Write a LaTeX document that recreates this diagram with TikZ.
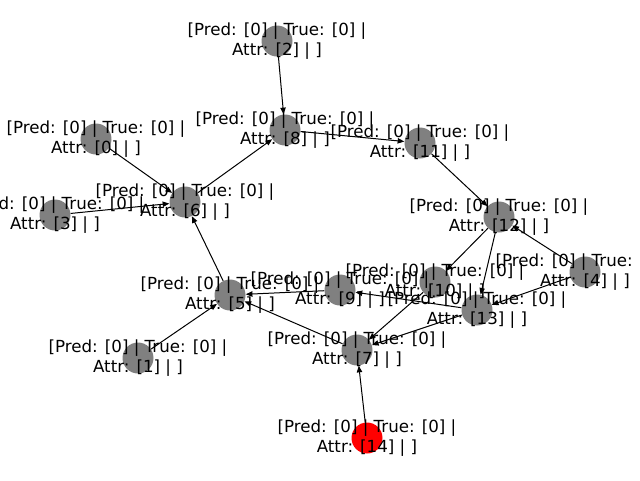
\documentclass[tikz,border=0pt]{standalone}
\usepackage{fontspec}
\setmainfont{DejaVu Sans}
\usetikzlibrary{arrows.meta}

\tikzset{
  vert/.style={circle, fill=gray, minimum size=23.25pt, inner sep=0pt},
  hit/.style={vert, fill=red},
  lbl/.style={align=center, inner sep=0pt, font=\fontsize{12.5}{15}\selectfont},
  edge/.style={-{Triangle[length=5pt, width=4pt]}, line width=0.75pt}
}

\begin{document}
\begin{tikzpicture}[x=0.75pt, y=-0.75pt]
\useasboundingbox (0,0) rectangle (640,480);
\node[vert] (n0) at (96,139) {};
\node[vert] (n1) at (138,358) {};
\node[vert] (n2) at (277,41) {};
\node[vert] (n3) at (55,215) {};
\node[vert] (n4) at (585,272) {};
\node[vert] (n5) at (230,295) {};
\node[vert] (n6) at (185,202) {};
\node[vert] (n7) at (357,350) {};
\node[vert] (n8) at (285,130) {};
\node[vert] (n9) at (340,290) {};
\node[vert] (n10) at (435,282) {};
\node[vert] (n11) at (420,143) {};
\node[vert] (n12) at (499,217) {};
\node[vert] (n13) at (477,310) {};
\node[hit] (n14) at (367,438) {};
\draw[edge] (n2) -- (n8);
\draw[edge] (n8) -- (n11);
\draw[edge] (n0) -- (n6);
\draw[edge] (n3) -- (n6);
\draw[edge] (n6) -- (n8);
\draw[edge] (n5) -- (n6);
\draw[edge] (n11) -- (n12);
\draw[edge] (n4) -- (n12);
\draw[edge] (n12) -- (n10);
\draw[edge] (n12) -- (n13);
\draw[edge] (n4) -- (n13);
\draw[edge] (n13) -- (n9);
\draw[edge] (n9) -- (n5);
\draw[edge] (n10) -- (n7);
\draw[edge] (n13) -- (n7);
\draw[edge] (n7) -- (n5);
\draw[edge] (n1) -- (n5);
\draw[edge] (n14) -- (n7);
\node[lbl] (l0) at (n0) {[Pred: [0] | True: [0] |\\Attr: [0] | ]};
\node[lbl] (l1) at (n1) {[Pred: [0] | True: [0] |\\Attr: [1] | ]};
\node[lbl] (l2) at (n2) {[Pred: [0] | True: [0] |\\Attr: [2] | ]};
\node[lbl] (l3) at (n3) {[Pred: [0] | True: [0] |\\Attr: [3] | ]};
\node[lbl] (l4) at (n4) {[Pred: [0] | True: [0] |\\Attr: [4] | ]};
\node[lbl] (l5) at (n5) {[Pred: [0] | True: [0] |\\Attr: [5] | ]};
\node[lbl] (l6) at (n6) {[Pred: [0] | True: [0] |\\Attr: [6] | ]};
\node[lbl] (l7) at (n7) {[Pred: [0] | True: [0] |\\Attr: [7] | ]};
\node[lbl] (l8) at (n8) {[Pred: [0] | True: [0] |\\Attr: [8] | ]};
\node[lbl] (l9) at (n9) {[Pred: [0] | True: [0] |\\Attr: [9] | ]};
\node[lbl] (l10) at (n10) {[Pred: [0] | True: [0] |\\Attr: [10] | ]};
\node[lbl] (l11) at (n11) {[Pred: [0] | True: [0] |\\Attr: [11] | ]};
\node[lbl] (l12) at (n12) {[Pred: [0] | True: [0] |\\Attr: [12] | ]};
\node[lbl] (l13) at (n13) {[Pred: [0] | True: [0] |\\Attr: [13] | ]};
\node[lbl] (l14) at (n14) {[Pred: [0] | True: [0] |\\Attr: [14] | ]};
\end{tikzpicture}
\end{document}
